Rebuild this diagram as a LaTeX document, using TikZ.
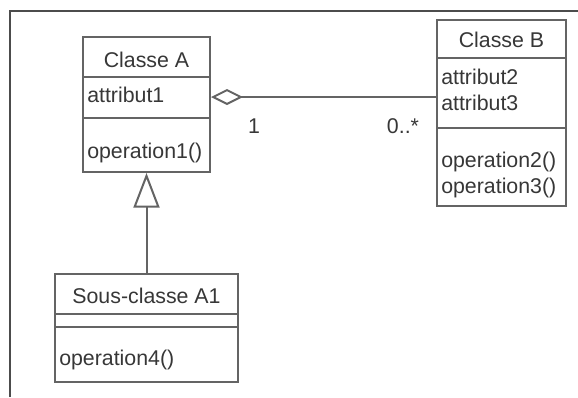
\documentclass[tikz,border=0pt]{standalone}
\usepackage{fontspec}
\setmainfont{Liberation Sans}
\usetikzlibrary{arrows.meta,fit}
\definecolor{linec}{RGB}{100,100,100}
\definecolor{textc}{RGB}{55,55,55}
\tikzset{
  classbox/.style={draw=linec, line width=1.5pt, fill=white, inner sep=0pt},
  divider/.style={draw=linec, line width=1.5pt},
  conn/.style={draw=linec, line width=1.5pt},
  lbl/.style={text=textc, inner sep=0pt, font=\fontsize{16pt}{19pt}\selectfont},
  lblw/.style={lbl, anchor=west},
}
\begin{document}
\begin{tikzpicture}[x=0.75pt,y=-0.75pt]
\useasboundingbox (0,0) rectangle (578,397);
% outer frame
\coordinate (f1) at (10,397);
\coordinate (f2) at (10,11);
\coordinate (f3) at (578,11);
\draw[draw=black!70, line width=1pt] (f1) -- (f2) -- (f3);
% Classe A
\node[classbox, fit={(83,37) (210,172)}] (A) {};
\draw[divider] (A.west |- 0,77) -- (A.east |- 0,77);
\draw[divider] (A.west |- 0,118) -- (A.east |- 0,118);
\node[lbl] (An) at (146.5,60) {Classe A};
\node[lblw] (Aa1) at (87,95) {attribut1};
\node[lblw] (Ao1) at (87,153) {operation1()};
% Classe B
\node[classbox, fit={(437,20) (566,206)}] (B) {};
\draw[divider] (B.west |- 0,58) -- (B.east |- 0,58);
\draw[divider] (B.west |- 0,128) -- (B.east |- 0,128);
\node[lbl] (Bn) at (501.5,40) {Classe B};
\node[lblw] (Ba2) at (441,77) {attribut2};
\node[lblw] (Ba3) at (441,103) {attribut3};
\node[lblw] (Bo2) at (441,162) {operation2()};
\node[lblw] (Bo3) at (441,188) {operation3()};
% Sous-classe A1
\node[classbox, fit={(55,274) (238,382)}] (S) {};
\draw[divider] (S.west |- 0,314) -- (S.east |- 0,314);
\draw[divider] (S.west |- 0,327) -- (S.east |- 0,327);
\node[lbl] (Sn) at (146.5,296) {Sous-classe A1};
\node[lblw] (So4) at (59,360) {operation4()};
% association (aggregation)
\coordinate (pA) at (A.east |- 0,97);
\coordinate (pB) at (B.west |- 0,97);
\draw[conn, {Diamond[open, fill=white, length=24pt, width=12pt]}-] (pA) -- (pB);
\node[lbl] (m1) at (254,126) {1};
\node[lbl] (m2) at (403,126) {0..*};
% generalization
\draw[conn, -{Triangle[open, fill=white, length=26pt, width=19.5pt]}] (S.north) -- (A.south);
\end{tikzpicture}
\end{document}
